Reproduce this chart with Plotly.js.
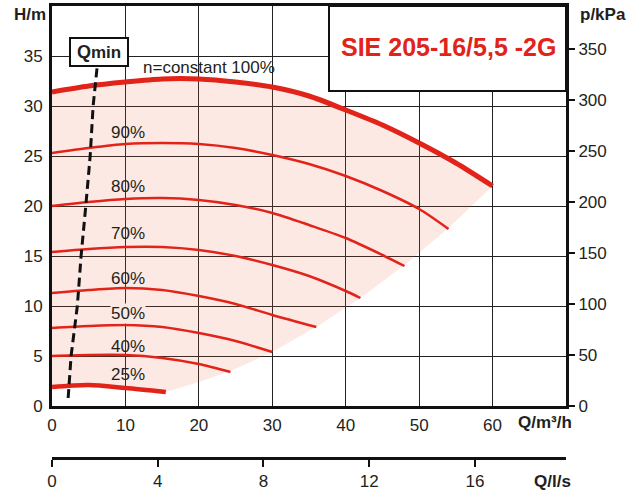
<!DOCTYPE html>
<html>
<head>
<meta charset="utf-8">
<script src="https://cdn.plot.ly/plotly-3.0.1.min.js"></script>
<style>html,body{margin:0;padding:0;background:#fff;}#chart{width:643px;height:492px;}</style>
</head>
<body>
<div id="chart"></div>
<script>
// Pump curves, Q in m3/h, H in m
const Q100 = [0, 5, 10, 15, 20, 25, 30, 35, 40, 45, 50, 55, 60];
const H100 = [31.4, 32.0, 32.4, 32.7, 32.7, 32.4, 31.9, 31.0, 29.6, 28.1, 26.3, 24.3, 22.0];
const Q90 = [0, 5, 10, 15, 20, 25, 30, 35, 40, 45, 50, 54];
const H90 = [25.3, 25.8, 26.2, 26.3, 26.2, 25.8, 25.1, 24.2, 23.0, 21.5, 19.7, 17.7];
const Q80 = [0, 5, 10, 15, 20, 25, 30, 35, 40, 45, 48];
const H80 = [20.0, 20.4, 20.7, 20.8, 20.6, 20.1, 19.3, 18.1, 16.8, 15.1, 14.0];
const Q70 = [0, 5, 10, 15, 20, 25, 30, 35, 40, 42];
const H70 = [15.4, 15.7, 15.9, 15.9, 15.6, 15.0, 14.1, 13.0, 11.5, 10.8];
const Q60 = [0, 5, 10, 15, 20, 25, 30, 36];
const H60 = [11.3, 11.6, 11.8, 11.6, 11.0, 10.2, 9.1, 7.9];
const Q50 = [0, 5, 10, 15, 20, 25, 30];
const H50 = [7.8, 8.0, 8.1, 7.9, 7.3, 6.5, 5.4];
const Q40 = [0, 5, 10, 15, 20, 24.3];
const H40 = [5.0, 5.1, 5.1, 4.8, 4.2, 3.4];
const Q25 = [0, 5, 10, 15.5];
const H25 = [1.9, 2.1, 1.8, 1.4];
// lower boundary of shaded operating area
const Qbound = [15.5, 20, 24.3, 30, 36.2, 42, 48, 54, 60];
const Hbound = [1.4, 2.4, 3.5, 5.4, 8.0, 10.8, 14.1, 17.8, 22.0];
// Qmin line
const Qmin = [2.2, 2.6, 3.45, 3.96, 4.6, 5.2, 5.6, 6.0, 6.3];
const Hmin = [0.8, 5, 10, 15, 20, 25, 30, 33, 35];
// axis ticks
const xTicks = [0, 10, 20, 30, 40, 50, 60];
const yTicks = [0, 5, 10, 15, 20, 25, 30, 35];
const pTicks = [0, 50, 100, 150, 200, 250, 300, 350];
const lsTicks = [0, 4, 8, 12, 16];
const curveLabels = ['n=constant 100%', '90%', '80%', '70%', '60%', '50%', '40%', '25%'];
const labelQ = [21.4, 10.4, 10.4, 10.4, 10.4, 10.4, 10.4, 10.4];
const labelH = [33.9, 27.4, 22.0, 17.3, 12.8, 9.3, 6.0, 3.2];
const modelName = 'SIE 205-16/5,5 -2G';

const RED = '#e2231a';
const TXT = '#231f20';
const FONT = 'Liberation Sans, Arial, Helvetica, sans-serif';

const fillX = Q25.concat(Qbound.slice(1), Q100.slice().reverse());
const fillY = H25.concat(Hbound.slice(1), H100.slice().reverse());

function curve(x, y, w) {
  return {x: x, y: y, type: 'scatter', mode: 'lines', line: {color: RED, width: w, shape: 'spline', smoothing: 0.8},
    hoverinfo: 'skip', showlegend: false};
}

const traces = [
  {x: fillX, y: fillY, type: 'scatter', mode: 'lines', fill: 'toself', fillcolor: 'rgba(240,110,70,0.15)',
    line: {width: 0, color: 'rgba(0,0,0,0)'}, hoverinfo: 'skip', showlegend: false},
  curve(Q90, H90, 2.5), curve(Q80, H80, 2.5), curve(Q70, H70, 2.5), curve(Q60, H60, 2.5),
  curve(Q50, H50, 2.5), curve(Q40, H40, 2.5), curve(Q25, H25, 4.5), curve(Q100, H100, 5),
  {x: Qmin, y: Hmin, type: 'scatter', mode: 'lines', line: {color: '#111', width: 3, dash: '9px,5px'},
    hoverinfo: 'skip', showlegend: false},
  {x: pTicks.map(() => 0), y: pTicks, yaxis: 'y2', type: 'scatter', mode: 'markers', marker: {opacity: 0},
    hoverinfo: 'skip', showlegend: false},
  {x: lsTicks, y: lsTicks.map(() => null), xaxis: 'x2', type: 'scatter', mode: 'markers', marker: {opacity: 0},
    hoverinfo: 'skip', showlegend: false}
];

const annotations = curveLabels.map((t, i) => {
  const a = {x: labelQ[i], y: labelH[i], xref: 'x', yref: 'y', text: t, showarrow: false,
    xanchor: 'center', yanchor: 'middle', font: {family: FONT, size: 17, color: TXT}};
  if (t === '50%') { a.bgcolor = 'rgb(253,233,227)'; a.borderpad = 0; }
  return a;
});
function px2x(px) { return (px - 52) / 514; }
function py2y(py) { return (458 - py) / 452; }
annotations.push(
  {x: px2x(30), y: py2y(15), xref: 'paper', yref: 'paper', text: '<b>H/m</b>', showarrow: false,
    xanchor: 'center', yanchor: 'middle', font: {family: FONT, size: 17, color: TXT}},
  {x: px2x(578), y: py2y(15), xref: 'paper', yref: 'paper', text: '<b>p/kPa</b>', showarrow: false,
    xanchor: 'left', yanchor: 'middle', font: {family: FONT, size: 17, color: TXT}},
  {x: px2x(545), y: py2y(422), xref: 'paper', yref: 'paper', text: '<b>Q/m³/h</b>', showarrow: false,
    xanchor: 'center', yanchor: 'middle', font: {family: FONT, size: 17, color: TXT}},
  {x: px2x(552), y: py2y(481), xref: 'paper', yref: 'paper', text: '<b>Q/l/s</b>', showarrow: false,
    xanchor: 'center', yanchor: 'middle', font: {family: FONT, size: 17, color: TXT}},
  {x: px2x(448), y: py2y(47), xref: 'paper', yref: 'paper', text: '<b>' + modelName + '</b>', showarrow: false,
    xanchor: 'center', yanchor: 'middle', font: {family: FONT, size: 25, color: RED}},
  {x: px2x(98.5), y: py2y(51.5), xref: 'paper', yref: 'paper',
    text: "<b>Q<span style='font-size:17px'>min</span></b>", showarrow: false,
    xanchor: 'center', yanchor: 'middle', width: 54, height: 24, borderpad: 1,
    bgcolor: '#fff', bordercolor: '#111', borderwidth: 2, font: {family: FONT, size: 18, color: TXT}}
);

const layout = {
  width: 643, height: 492,
  margin: {l: 52, r: 77, t: 6, b: 34},
  paper_bgcolor: '#fff', plot_bgcolor: 'rgba(0,0,0,0)',
  showlegend: false,
  font: {family: FONT, size: 17, color: TXT},
  xaxis: {range: [0, 70], domain: [0, 1], anchor: 'y', tickvals: xTicks, ticktext: xTicks.map(String),
    showgrid: true, gridcolor: '#222', gridwidth: 1, zeroline: false,
    showline: true, linecolor: '#111', linewidth: 3, mirror: true, ticks: '', ticklabelstandoff: 2,
    tickfont: {family: FONT, size: 17, color: TXT}},
  xaxis2: {range: [0, 70 / 3.6], overlaying: 'x', anchor: 'free', position: 0, side: 'bottom',
    tickvals: lsTicks, ticktext: lsTicks.map(String), showgrid: false, zeroline: false,
    showline: true, linecolor: '#111', linewidth: 2.5, ticks: 'outside', ticklen: 7, tickwidth: 2, tickcolor: '#111',
    ticklabelstandoff: 0, tickfont: {family: FONT, size: 17, color: TXT}},
  yaxis: {range: [0, 40], domain: [0.11504, 1], anchor: 'x', tickvals: yTicks, ticktext: yTicks.map(String),
    showgrid: true, gridcolor: '#222', gridwidth: 1, zeroline: false,
    showline: true, linecolor: '#111', linewidth: 3, ticks: '', ticklabelstandoff: 3,
    tickfont: {family: FONT, size: 17, color: TXT}},
  yaxis2: {range: [0, 392], overlaying: 'y', side: 'right', anchor: 'x', tickvals: pTicks, ticktext: pTicks.map(String),
    showgrid: false, zeroline: false, showline: true, linecolor: '#111', linewidth: 3,
    ticks: 'outside', ticklen: 6, tickwidth: 2, tickcolor: '#111', ticklabelstandoff: 0,
    tickfont: {family: FONT, size: 17, color: TXT}},
  shapes: [
    {type: 'rect', xref: 'paper', yref: 'paper', x0: px2x(329), x1: 1, y0: py2y(91), y1: 1,
      fillcolor: '#fff', line: {color: '#111', width: 2}, layer: 'above'}
  ],
  annotations: annotations
};

Plotly.newPlot('chart', traces, layout, {displayModeBar: false, staticPlot: true});
</script>
</body>
</html>
